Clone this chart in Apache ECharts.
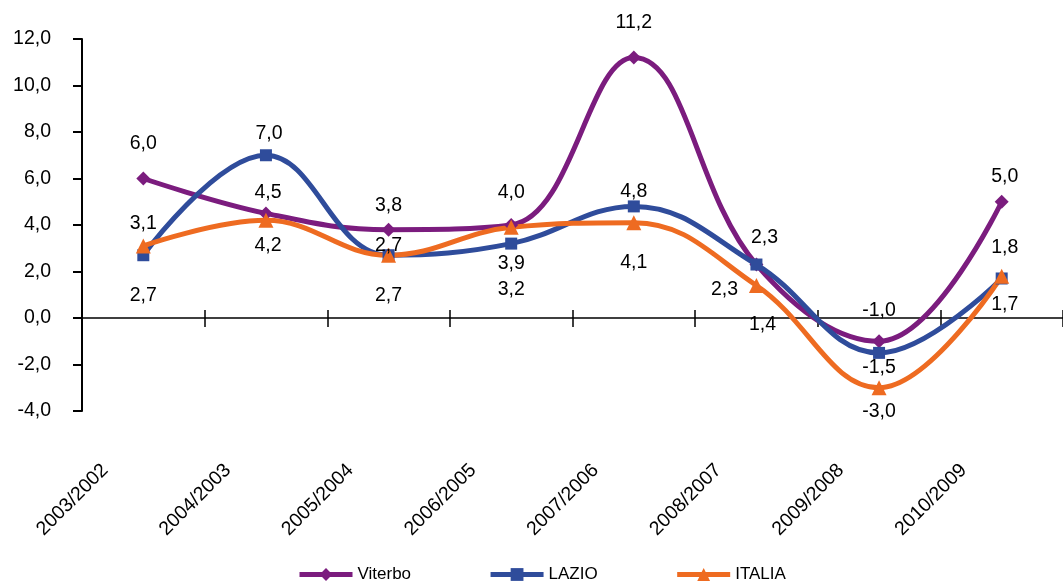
<!DOCTYPE html>
<html>
<head>
<meta charset="utf-8">
<script src="https://cdn.jsdelivr.net/npm/echarts@6/dist/echarts.min.js"></script>
<style>
  html, body { margin: 0; padding: 0; background: #fff; }
  #chart { width: 1063px; height: 583px; }
</style>
</head>
<body>
<div id="chart"></div>
<script>
// Annual percentage change, three territories
const categories = ['2003/2002', '2004/2003', '2005/2004', '2006/2005', '2007/2006', '2008/2007', '2009/2008', '2010/2009'];
const viterbo = [6.0, 4.5, 3.8, 4.0, 11.2, 2.3, -1.0, 5.0];
const lazio   = [2.7, 7.0, 2.7, 3.2, 4.8, 2.3, -1.5, 1.7];
const italia  = [3.1, 4.2, 2.7, 3.9, 4.1, 1.4, -3.0, 1.8];
const yMin = -4, yMax = 12, yStep = 2;

// Placement of each value label relative to its marker (dx, dy in px)
const viterboLabelShift = [[0, -35], [2, -21], [0, -24], [0, -32], [0, -35], [8, -27], [0, -31], [3, -25]];
const lazioLabelShift   = [[0, 40], [3, -22], [0, -10], [0, 46], [0, -15], [-32, 25], [0, 15], [3, 26]];
const italiaLabelShift  = [[0, -22], [2, 25], [0, 40], [0, 36], [0, 40], [6, 39], [0, 24], [3, -29]];

const FONT = "'Liberation Sans', Arial, Helvetica, sans-serif";
const TEXT_SIZE = 19.5;
const fmt = v => Number(v).toFixed(1).replace('.', ',');

function lineSeries(name, values, shifts, color, symbol, size) {
  return {
    name: name,
    type: 'line',
    xAxisIndex: 0,
    yAxisIndex: 0,
    data: values.map((v, i) => ({ value: v, label: { offset: shifts[i] } })),
    smooth: 0.4,
    symbol: symbol,
    symbolSize: size,
    lineStyle: { color: color, width: 5 },
    itemStyle: { color: color },
    label: {
      show: true,
      position: 'inside',
      formatter: p => fmt(p.value),
      fontFamily: FONT,
      fontSize: TEXT_SIZE,
      color: '#000'
    },
    emphasis: { disabled: true },
    animation: false
  };
}

const chart = echarts.init(document.getElementById('chart'), null, { renderer: 'canvas' });

const baseCategoryAxis = {
  type: 'category',
  data: categories,
  boundaryGap: true,
  splitLine: { show: false }
};

chart.setOption({
  animation: false,
  backgroundColor: '#fff',
  textStyle: { fontFamily: FONT },
  grid: { left: 82, right: -9, top: 39, bottom: 172, containLabel: false },
  legend: {
    top: 566,
    left: 297,
    padding: 0,
    itemWidth: 53,
    itemHeight: 16,
    itemGap: 77,
    lineStyle: { width: 5 },
    textStyle: { fontFamily: FONT, fontSize: 17, color: '#000' },
    data: ['Viterbo', 'LAZIO', 'ITALIA']
  },
  xAxis: [
    Object.assign({}, baseCategoryAxis, {
      position: 'bottom',
      axisLine: { show: true, onZero: true, onZeroAxisIndex: 0, lineStyle: { color: '#000', width: 1.5 } },
      axisTick: { show: true, inside: false, length: 9, interval: 0, lineStyle: { color: '#000', width: 1.5 } },
      axisLabel: { show: false }
    }),
    Object.assign({}, baseCategoryAxis, {
      position: 'top',
      axisLine: { show: false, onZero: true, onZeroAxisIndex: 0 },
      axisTick: { show: true, inside: false, length: 8, interval: 0, lineStyle: { color: '#000', width: 1.5 } },
      axisLabel: { show: false }
    }),
    Object.assign({}, baseCategoryAxis, {
      position: 'bottom',
      axisLine: { show: false, onZero: false },
      axisTick: { show: false },
      axisLabel: {
        show: true,
        interval: 0,
        rotate: 45,
        margin: 18,
        padding: [0, 54, 0, 0],
        fontFamily: FONT,
        fontSize: TEXT_SIZE,
        color: '#000'
      }
    })
  ],
  yAxis: {
    type: 'value',
    min: yMin,
    max: yMax,
    interval: yStep,
    axisLine: { show: true, onZero: false, lineStyle: { color: '#000', width: 2 } },
    axisTick: { show: true, inside: false, length: 9, lineStyle: { color: '#000', width: 2 } },
    axisLabel: { margin: 31, formatter: v => fmt(v), fontFamily: FONT, fontSize: TEXT_SIZE, color: '#000' },
    splitLine: { show: false }
  },
  series: [
    lineSeries('Viterbo', viterbo, viterboLabelShift, '#7B1C7E', 'diamond', 14),
    lineSeries('LAZIO', lazio, lazioLabelShift, '#2F4C9B', 'rect', 12),
    lineSeries('ITALIA', italia, italiaLabelShift, '#EE6B21', 'triangle', 15)
  ]
});
</script>
</body>
</html>
